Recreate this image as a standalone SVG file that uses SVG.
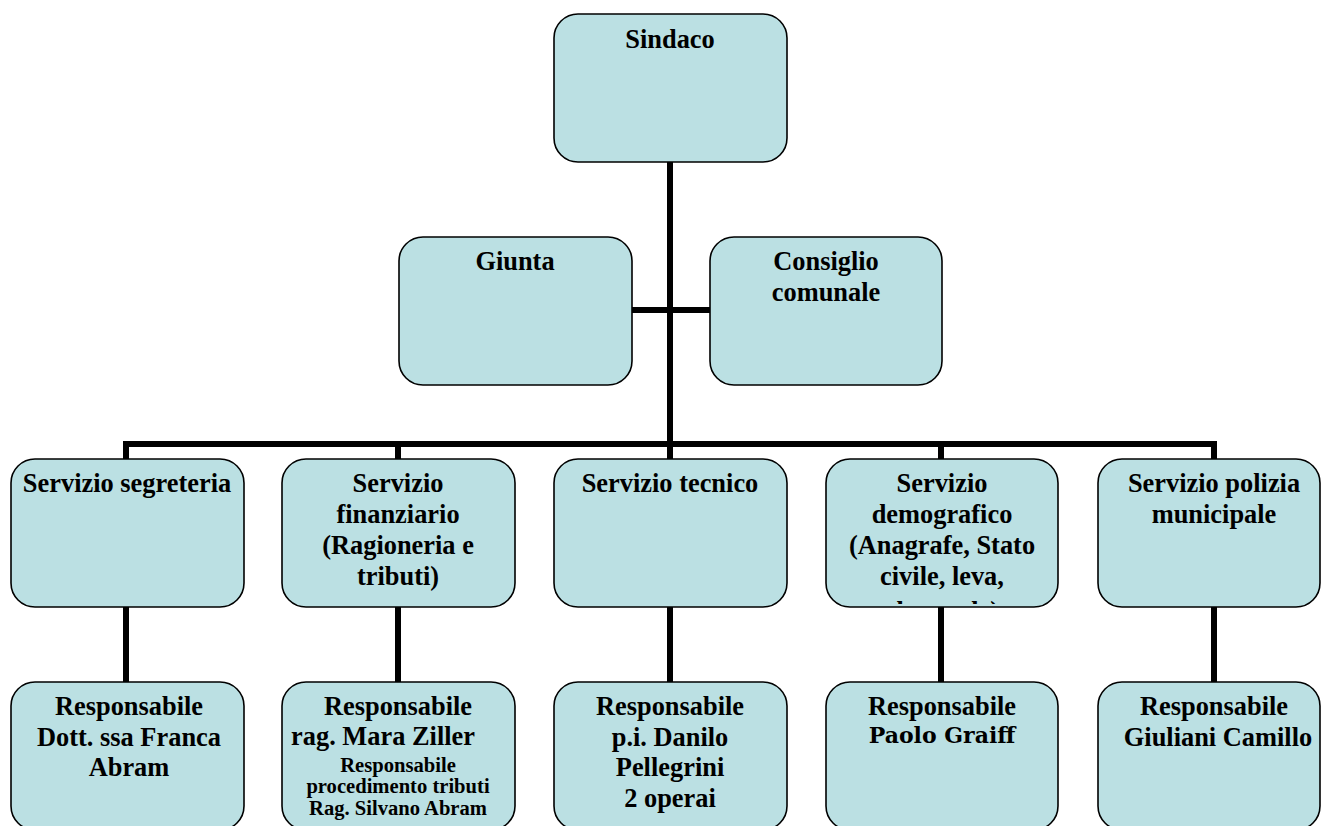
<svg xmlns="http://www.w3.org/2000/svg" width="1321" height="826" viewBox="0 0 1321 826">
<style>
.box{fill:#BBE0E3;stroke:#000;stroke-width:1.6}
.t{font-family:"Liberation Serif","Times New Roman",serif;font-weight:bold;font-size:26.4px;fill:#000;text-anchor:middle}
.s{font-size:20.6px}
.b{font-family:"DejaVu Serif",serif;font-size:22px}
.c{stroke:#000;stroke-width:6;fill:none}
</style>
<defs>
<clipPath id="clipDemo"><rect x="828" y="461" width="228" height="143"/></clipPath>
</defs>
<rect width="1321" height="826" fill="#fff"/>
<g id="connectors">
<path class="c" d="M670 162V444M632 310H710M126 444H1215M126 441V459M398 444V459M670 444V459M941 444V459M1214 441V459"/>
<path class="c" d="M126 607V682M398 607V682M670 607V682M941 607V682M1214 607V682"/>
</g>
<g id="sindaco"><rect class="box" x="554" y="14" width="233" height="148" rx="24"/><text class="t" x="670" y="48">Sindaco</text></g>
<g id="giunta"><rect class="box" x="399" y="237" width="233" height="148" rx="24"/><text class="t" x="515" y="270">Giunta</text></g>
<g id="consiglio"><rect class="box" x="710" y="237" width="232" height="148" rx="24"/><text class="t" x="826" y="270">Consiglio</text><text class="t" x="826" y="301">comunale</text></g>
<g id="segreteria"><rect class="box" x="11" y="459" width="233" height="148" rx="24"/><text class="t" x="127" y="492">Servizio segreteria</text></g>
<g id="finanziario"><rect class="box" x="282" y="459" width="233" height="148" rx="24"/><text class="t" x="398" y="492">Servizio</text><text class="t" x="398" y="523">finanziario</text><text class="t" x="398" y="554">(Ragioneria e</text><text class="t" x="398" y="585">tributi)</text></g>
<g id="tecnico"><rect class="box" x="554" y="459" width="233" height="148" rx="24"/><text class="t" x="670" y="492">Servizio tecnico</text></g>
<g id="demografico"><rect class="box" x="826" y="459" width="232" height="148" rx="24"/><g clip-path="url(#clipDemo)"><text class="t" x="942" y="492">Servizio</text><text class="t" x="942" y="523">demografico</text><text class="t" x="942" y="554">(Anagrafe, Stato</text><text class="t" x="942" y="585">civile, leva,</text><text class="t" x="942" y="620">elettorale)</text></g></g>
<g id="polizia"><rect class="box" x="1098" y="459" width="222" height="148" rx="24"/><text class="t" x="1214" y="492">Servizio polizia</text><text class="t" x="1214" y="523">municipale</text></g>
<g id="resp-segreteria"><rect class="box" x="11" y="682" width="233" height="148" rx="24"/><text class="t" x="129" y="715">Responsabile</text><text class="t" x="129" y="746">Dott. ssa Franca</text><text class="t" x="129" y="776">Abram</text></g>
<g id="resp-finanziario"><rect class="box" x="282" y="682" width="233" height="148" rx="24"/><text class="t" x="398" y="715">Responsabile</text><text class="t" x="383" y="745">rag. Mara Ziller</text><text class="t s" x="398" y="772">Responsabile</text><text class="t s" x="398" y="793">procedimento tributi</text><text class="t s" x="398" y="815">Rag. Silvano Abram</text></g>
<g id="resp-tecnico"><rect class="box" x="554" y="682" width="233" height="148" rx="24"/><text class="t" x="670" y="715">Responsabile</text><text class="t" x="670" y="746">p.i. Danilo</text><text class="t" x="670" y="776">Pellegrini</text><text class="t" x="670" y="807">2 operai</text></g>
<g id="resp-demografico"><rect class="box" x="826" y="682" width="232" height="148" rx="24"/><text class="t" x="942" y="715">Responsabile</text><text class="t b" x="942" y="743">Paolo Graiff</text></g>
<g id="resp-polizia"><rect class="box" x="1098" y="682" width="222" height="148" rx="24"/><text class="t" x="1214" y="715">Responsabile</text><text class="t" x="1218" y="746">Giuliani Camillo</text></g>
</svg>
